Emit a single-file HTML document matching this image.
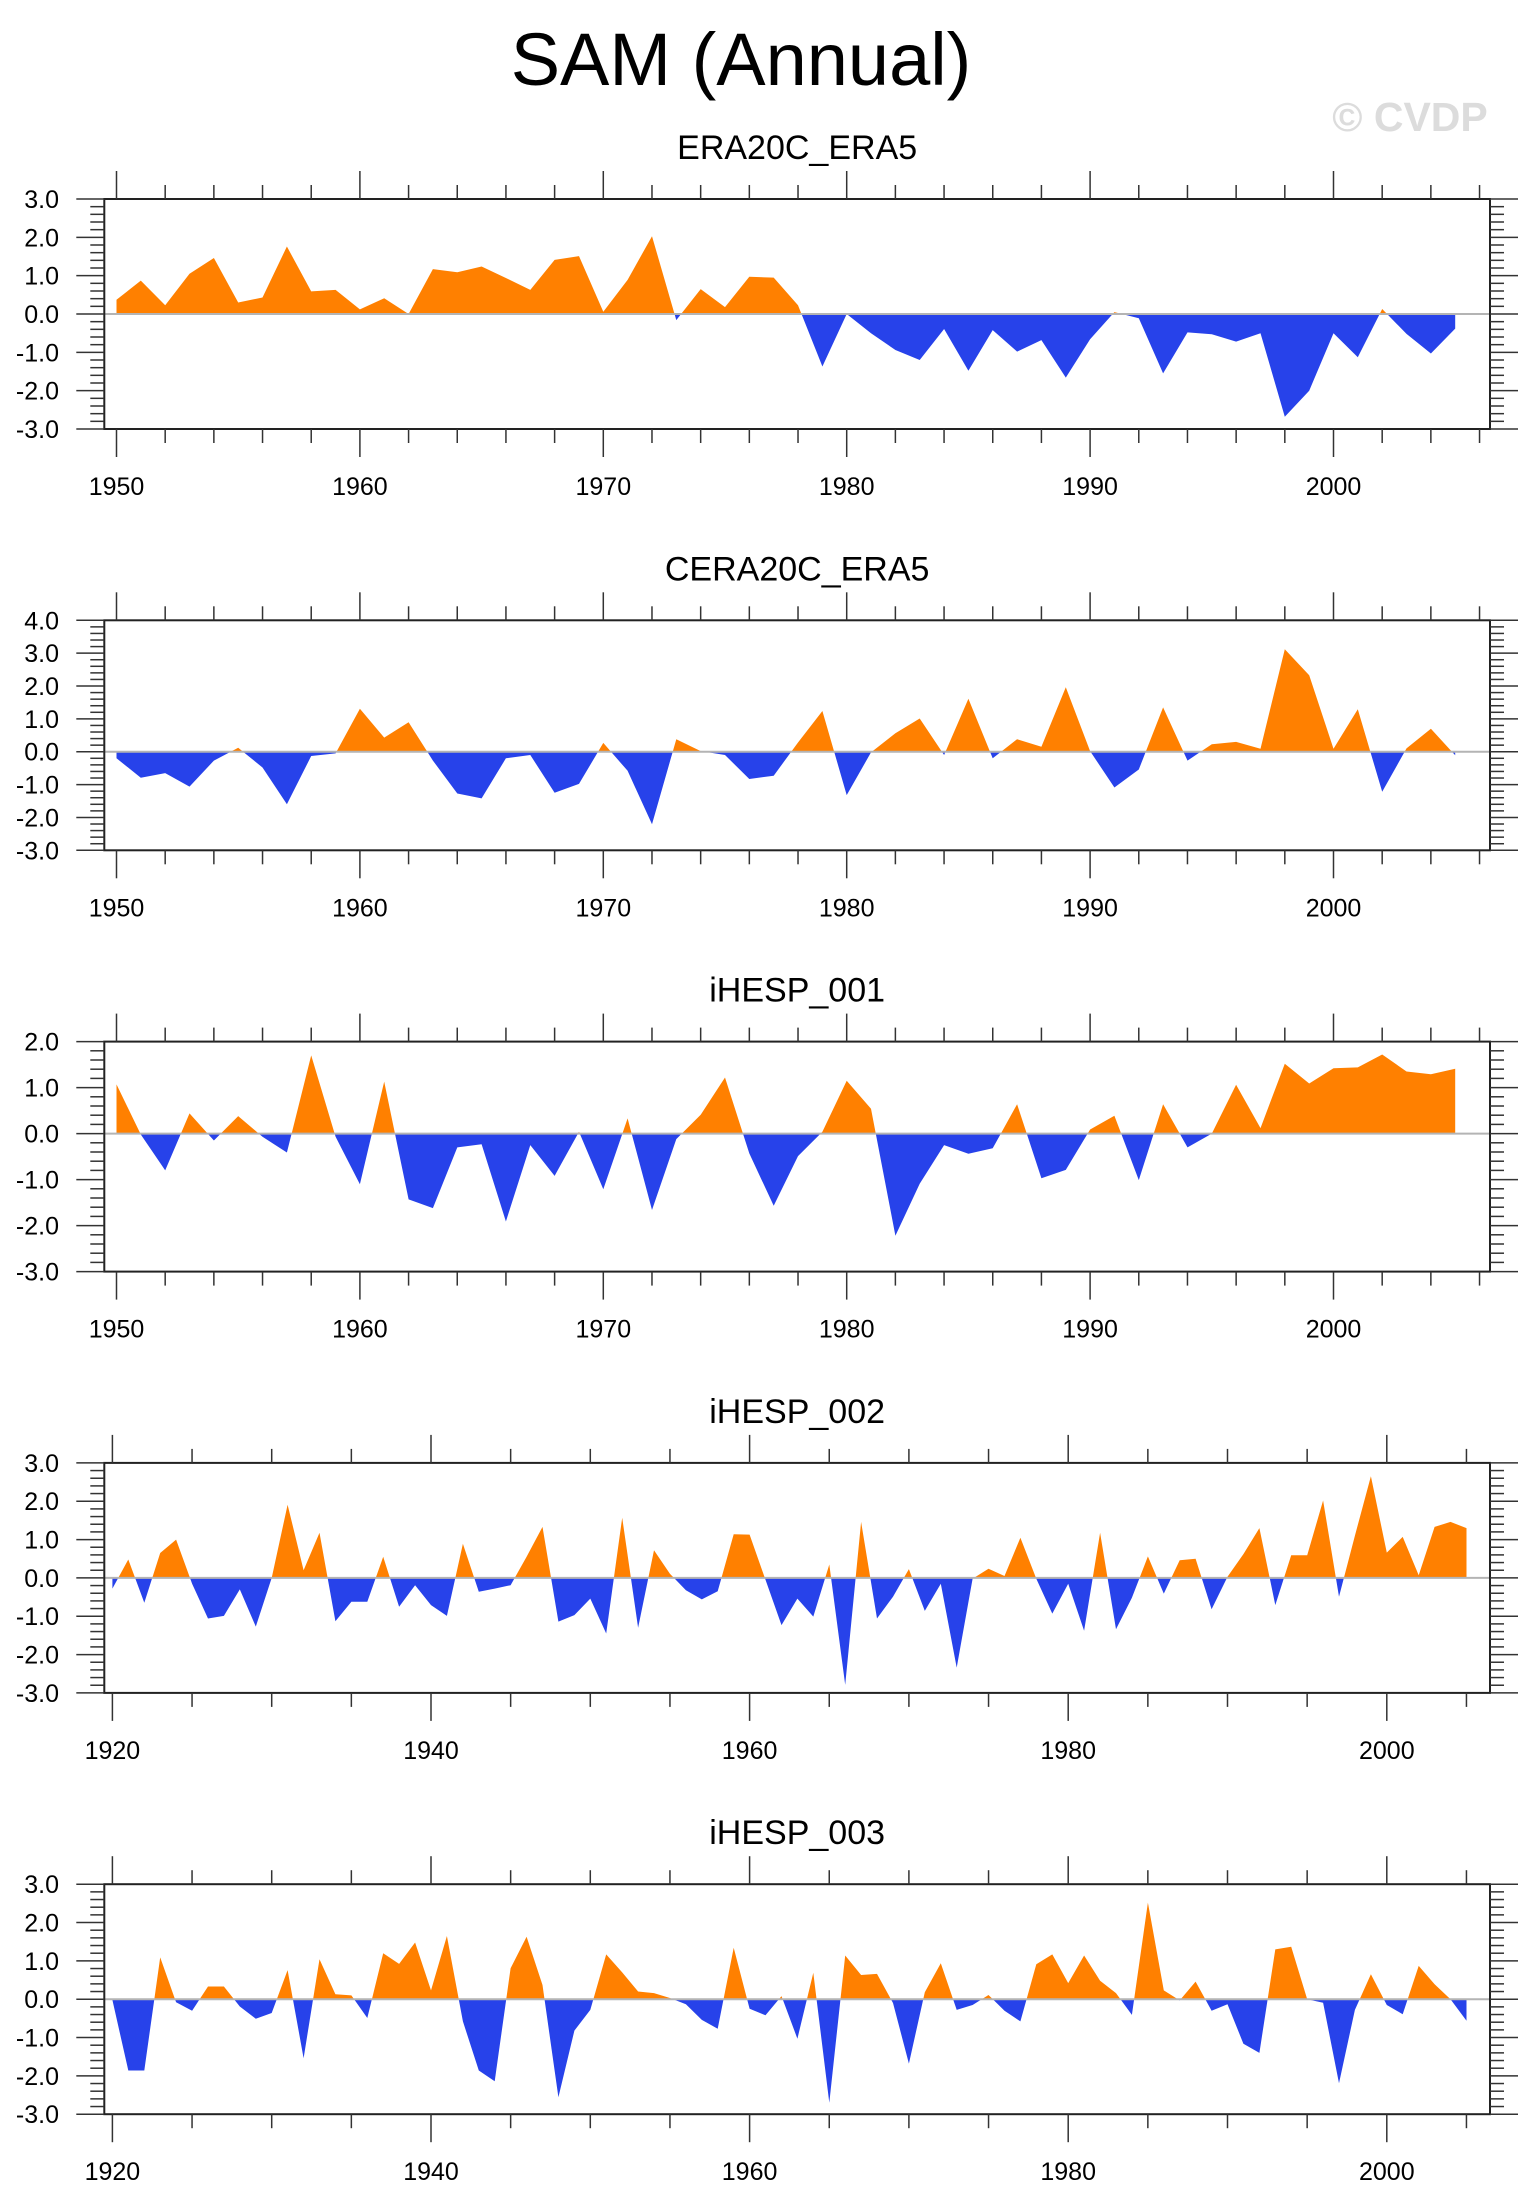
<!DOCTYPE html>
<html><head><meta charset="utf-8"><title>SAM (Annual)</title>
<style>
html,body{margin:0;padding:0;background:#fff;}
svg{display:block;font-family:"Liberation Sans",Arial,sans-serif;}
</style></head>
<body>
<svg id="chart" width="1533" height="2211" viewBox="0 0 1533 2211" xmlns="http://www.w3.org/2000/svg">
<rect width="1533" height="2211" fill="#fff"/>
<text x="741" y="85" font-size="74" text-anchor="middle" fill="#000">SAM (Annual)</text>
<text x="1410" y="131" font-size="41" font-weight="bold" text-anchor="middle" fill="#dcdcdc">© CVDP</text>
</svg>
<script>
// ---- data ----
const titles = ["ERA20C_ERA5","CERA20C_ERA5","iHESP_001","iHESP_002","iHESP_003"];
const startYears = [1950,1950,1950,1920,1920];
const yMins = [-3,-3,-3,-3,-3];
const yMaxs = [3,4,2,3,3];
const era20c = [0.37,0.87,0.23,1.05,1.46,0.30,0.43,1.76,0.59,0.63,0.12,0.41,0.0,1.17,1.09,1.24,0.94,0.63,1.41,1.51,0.06,0.89,2.03,-0.16,0.65,0.18,0.97,0.95,0.23,-1.37,0.0,-0.5,-0.94,-1.2,-0.39,-1.48,-0.42,-0.98,-0.68,-1.66,-0.66,0.05,-0.11,-1.55,-0.48,-0.53,-0.72,-0.5,-2.68,-2.0,-0.5,-1.13,0.13,-0.52,-1.03,-0.38];
const cera20c = [-0.2,-0.79,-0.65,-1.06,-0.27,0.12,-0.48,-1.6,-0.13,-0.05,1.31,0.43,0.9,-0.27,-1.27,-1.42,-0.2,-0.1,-1.25,-0.98,0.27,-0.58,-2.21,0.38,0.02,-0.1,-0.83,-0.73,0.28,1.24,-1.32,-0.02,0.56,1.01,-0.1,1.61,-0.2,0.38,0.15,1.96,0.02,-1.09,-0.54,1.35,-0.27,0.23,0.3,0.09,3.12,2.33,0.09,1.29,-1.22,0.1,0.7,-0.11];
const ihesp001 = [1.07,-0.02,-0.8,0.44,-0.15,0.38,-0.07,-0.41,1.7,-0.07,-1.1,1.13,-1.43,-1.62,-0.3,-0.23,-1.91,-0.25,-0.92,0.04,-1.21,0.33,-1.66,-0.12,0.41,1.22,-0.43,-1.57,-0.49,0.04,1.15,0.54,-2.22,-1.09,-0.25,-0.44,-0.32,0.64,-0.97,-0.79,0.09,0.39,-1.01,0.64,-0.3,0.0,1.06,0.12,1.52,1.09,1.42,1.44,1.72,1.35,1.29,1.41];
const ihesp002 = [-0.28,0.48,-0.65,0.65,1.0,-0.15,-1.06,-0.99,-0.3,-1.27,0.0,1.91,0.2,1.18,-1.13,-0.62,-0.62,0.55,-0.75,-0.19,-0.71,-0.99,0.89,-0.36,-0.28,-0.19,0.55,1.33,-1.14,-0.97,-0.54,-1.45,1.57,-1.3,0.72,0.11,-0.32,-0.56,-0.35,1.14,1.13,-0.05,-1.23,-0.54,-1.01,0.35,-2.79,1.46,-1.06,-0.49,0.23,-0.86,-0.15,-2.34,-0.02,0.24,0.05,1.05,-0.02,-0.93,-0.15,-1.38,1.18,-1.34,-0.52,0.56,-0.41,0.46,0.5,-0.82,0.03,0.62,1.3,-0.71,0.59,0.59,2.02,-0.49,1.1,2.65,0.66,1.07,0.07,1.33,1.46,1.3];
const ihesp003 = [-0.02,-1.86,-1.86,1.09,-0.08,-0.3,0.33,0.33,-0.19,-0.51,-0.36,0.76,-1.54,1.04,0.13,0.1,-0.49,1.2,0.92,1.48,0.23,1.65,-0.58,-1.86,-2.14,0.81,1.63,0.37,-2.56,-0.82,-0.28,1.17,0.7,0.2,0.16,0.03,-0.13,-0.54,-0.77,1.34,-0.25,-0.42,0.08,-1.03,0.69,-2.7,1.14,0.63,0.66,-0.1,-1.68,0.18,0.94,-0.28,-0.15,0.11,-0.3,-0.58,0.91,1.17,0.42,1.14,0.48,0.16,-0.41,2.52,0.23,-0.03,0.46,-0.3,-0.13,-1.16,-1.4,1.3,1.37,0.0,-0.09,-2.19,-0.28,0.65,-0.15,-0.39,0.87,0.39,0.0,-0.56];
const series = [era20c,cera20c,ihesp001,ihesp002,ihesp003];
const xTickLabels1 = ["1950","1960","1970","1980","1990","2000"];
const xTickLabels2 = ["1920","1940","1960","1980","2000"];

// ---- layout ----
const NS="http://www.w3.org/2000/svg";
const svg=document.getElementById('chart');
const BOX_L=104.3, BOX_R=1490, BOX_H=230;
const ORANGE="#ff8000", BLUE="#2742ea";
function mk(tag,attrs,parent){const e=document.createElementNS(NS,tag);for(const k in attrs)e.setAttribute(k,attrs[k]);(parent||svg).appendChild(e);return e;}

for(let p=0;p<5;p++){
  const top=199+p*421.3, bot=top+BOX_H;
  const y0=startYears[p];
  const modern = y0===1950;
  const x0px = modern?116.5:112.4, pxYr = modern?24.34:15.93;
  const xs = yr => x0px+(yr-y0)*pxYr;
  const ys = v => top+(yMaxs[p]-v)/(yMaxs[p]-yMins[p])*BOX_H;
  const vals=series[p];
  const g=mk('g',{});
  
  

  const t=mk('text',{x:(BOX_L+BOX_R)/2,y:top-40,'font-size':34,'text-anchor':'middle',fill:'#000'},g);
  
  
  t.textContent=titles[p];

  const zy=ys(0);
  let pts=xs(y0).toFixed(1)+','+zy.toFixed(1)+' ';
  vals.forEach((v,i)=>{pts+=xs(y0+i).toFixed(1)+','+ys(v).toFixed(1)+' ';});
  pts+=xs(y0+vals.length-1).toFixed(1)+','+zy.toFixed(1);
  const cidA='ca'+p, cidB='cb'+p;
  const defs=mk('defs',{},g);
  const ca=mk('clipPath',{id:cidA},defs); mk('rect',{x:BOX_L,y:top,width:BOX_R-BOX_L,height:zy-top},ca);
  const cb=mk('clipPath',{id:cidB},defs); mk('rect',{x:BOX_L,y:zy,width:BOX_R-BOX_L,height:bot-zy},cb);
  const pa=mk('polygon',{points:pts,fill:ORANGE,'clip-path':'url(#'+cidA+')'},g);
  
  
  const pb=mk('polygon',{points:pts,fill:BLUE,'clip-path':'url(#'+cidB+')'},g);
  
  
  const zl=mk('line',{x1:BOX_L,x2:BOX_R,y1:zy,y2:zy,stroke:'#b4b4b4','stroke-width':2},g);
  
  

  const box=mk('rect',{x:BOX_L,y:top,width:BOX_R-BOX_L,height:BOX_H,fill:'none',stroke:'#222','stroke-width':2},g);
  
  

  // x ticks
  const minorStep = modern?2:5, majorStep = modern?10:20, lastYr=modern?2006:2005;
  for(let yr=y0; yr<=lastYr; yr+=minorStep){
    const x=xs(yr), major=(yr-y0)%majorStep===0, L=major?28:14;
    mk('line',{x1:x,x2:x,y1:top,y2:top-L,stroke:'#333','stroke-width':1.5},g);
    mk('line',{x1:x,x2:x,y1:bot,y2:bot+L,stroke:'#333','stroke-width':1.5},g);
  }
  const labs = modern?xTickLabels1:xTickLabels2;
  labs.forEach(s=>{
    const tx=mk('text',{x:xs(+s),y:bot+66,'font-size':25,'text-anchor':'middle',fill:'#000'},g);
    
    
    tx.textContent=s;
  });
  // y ticks
  for(let k=Math.round(yMins[p]*5); k<=Math.round(yMaxs[p]*5); k++){
    const v=k/5, y=ys(v), major=k%5===0, L=major?28:14;
    mk('line',{x1:BOX_L,x2:BOX_L-L,y1:y,y2:y,stroke:'#333','stroke-width':1.5},g);
    mk('line',{x1:BOX_R,x2:BOX_R+L,y1:y,y2:y,stroke:'#333','stroke-width':1.5},g);
    if(major){
      const ty=mk('text',{x:59,y:y+9,'font-size':25,'text-anchor':'end',fill:'#000'},g);
      
      
      ty.textContent=v.toFixed(1);
    }
  }
}
</script>
</body></html>
